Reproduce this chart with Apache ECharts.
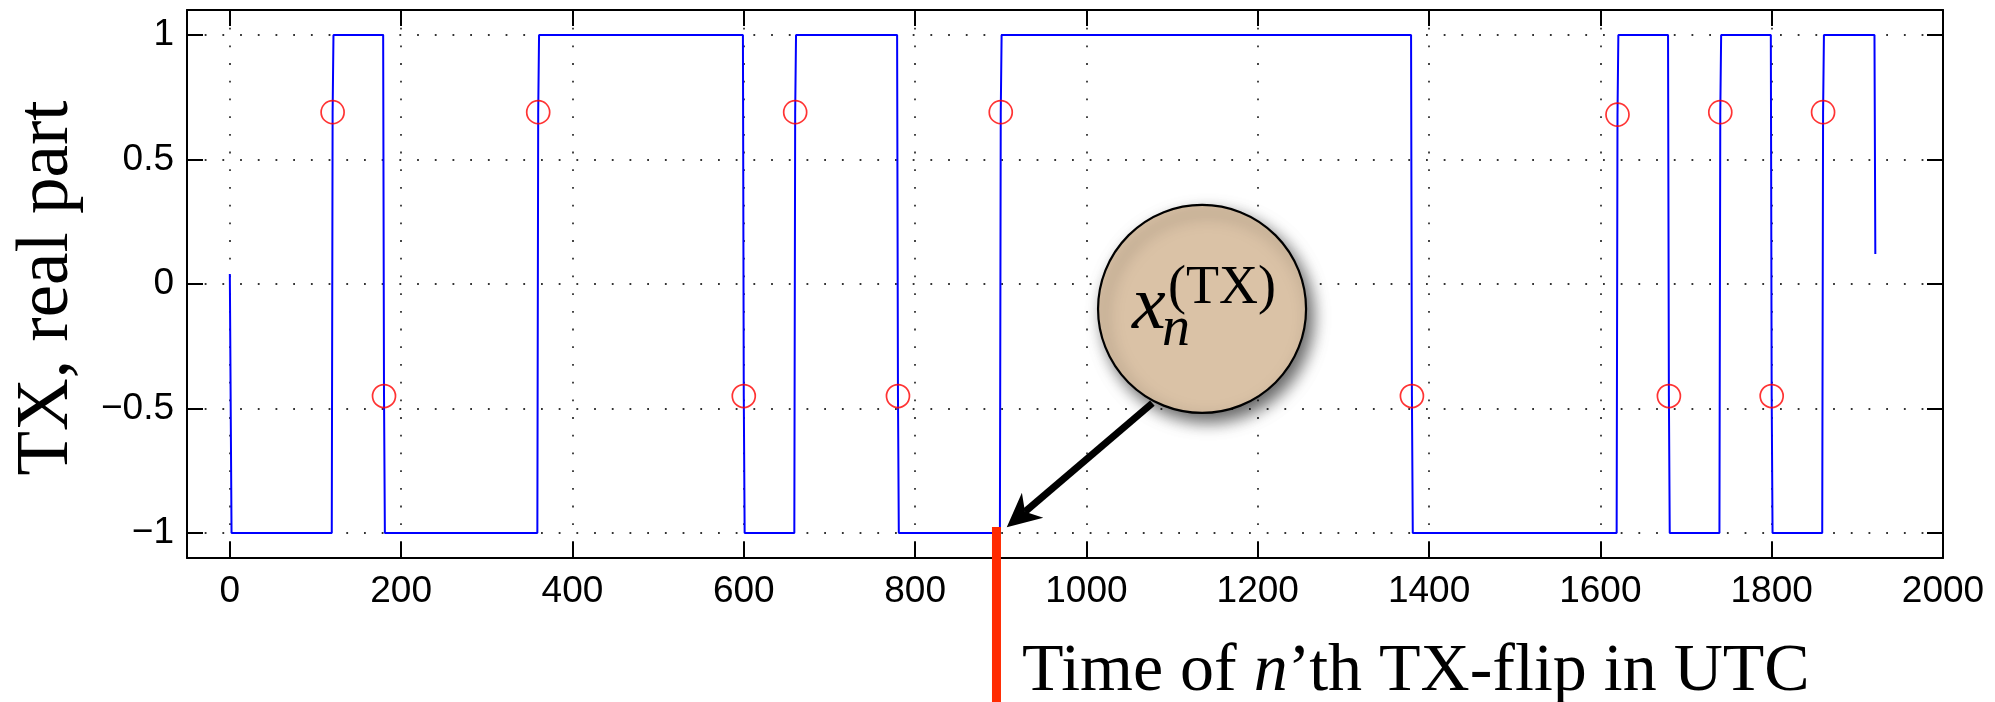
<!DOCTYPE html>
<html>
<head>
<meta charset="utf-8">
<script src="https://cdn.jsdelivr.net/npm/echarts@6/dist/echarts.min.js"></script>
<style>
  html, body { margin: 0; padding: 0; background: #fff; }
  #main { width: 1995px; height: 702px; }
</style>
</head>
<body>
<div id="main"></div>
<script>
// TX signal, real part: samples at the corners of each flip
const signalTime = [
  0, 2,
  119, 120, 121,
  179, 180, 181,
  359, 360, 361,
  599, 600, 601,
  659, 660, 661,
  779, 780, 781,
  899, 900, 901,
  1379, 1380, 1381,
  1619, 1620, 1621,
  1679, 1680, 1681,
  1739, 1740, 1741,
  1799, 1800, 1801,
  1859, 1860, 1861,
  1920, 1921
];
const signalValue = [
  0.04, -1,
  -1, 0.69, 1,
  1, -0.45, -1,
  -1, 0.69, 1,
  1, -0.45, -1,
  -1, 0.69, 1,
  1, -0.45, -1,
  -1, 0.69, 1,
  1, -0.45, -1,
  -1, 0.68, 1,
  1, -0.45, -1,
  -1, 0.69, 1,
  1, -0.45, -1,
  -1, 0.69, 1,
  1, 0.12
];

// Flip instants and the signal value sampled at each of them
const flipTime  = [120, 180, 360, 600, 660, 780, 900, 1380, 1620, 1680, 1740, 1800, 1860];
const flipValue = [0.69, -0.45, 0.69, -0.45, 0.69, -0.45, 0.69, -0.45, 0.68, -0.45, 0.69, -0.45, 0.69];

// Axis ticks
const xTicks = [0, 200, 400, 600, 800, 1000, 1200, 1400, 1600, 1800, 2000];
const yTicks = [-1, -0.5, 0, 0.5, 1];

// Text
const yAxisTitle = 'TX, real part';
const calloutVar = 'x';
const calloutSub = 'n';
const calloutSup = '(TX)';

// Callout anchors in data units: bubble centre, arrow tail, arrow tip, time marker
const bubbleCenter = [1135, -0.1];
const arrowTail = [1077, -0.478];
const arrowTip = [907, -0.977];
const markerTime = 895;

const serif = '"Liberation Serif", "DejaVu Serif", serif';
const sans = '"Liberation Sans", Arial, sans-serif';

const signalData = signalTime.map((t, i) => [t, signalValue[i]]);
const flipData = flipTime.map((t, i) => [t, flipValue[i]]);
const plainFmt = v => String(v).replace('-', '\u2212');

const boxLine = { show: true, onZero: false, lineStyle: { color: '#000', width: 2 } };
const gridDots = { show: true, lineStyle: { color: '#333', width: 1.8, type: [1.8, 15.9] } };

const chart = echarts.init(document.getElementById('main'), null, { renderer: 'canvas' });

chart.setOption({
  animation: false,
  backgroundColor: '#fff',
  grid: { left: 187, right: 52, top: 10, bottom: 144, containLabel: false },
  xAxis: [
    {
      type: 'value', min: -50, max: 2000, position: 'bottom',
      axisLine: boxLine,
      axisTick: { show: true, inside: true, length: 16, customValues: xTicks, lineStyle: { color: '#000', width: 2 } },
      axisLabel: { customValues: xTicks, margin: 15, fontSize: 37, fontFamily: sans, color: '#000', formatter: plainFmt },
      splitLine: gridDots
    },
    {
      type: 'value', min: -50, max: 2000, position: 'top',
      axisLine: boxLine,
      axisTick: { show: true, inside: true, length: 16, customValues: xTicks, lineStyle: { color: '#000', width: 2 } },
      axisLabel: { show: false },
      splitLine: { show: false }
    }
  ],
  yAxis: [
    {
      type: 'value', min: -1.1, max: 1.1, position: 'left',
      axisLine: boxLine,
      axisTick: { show: true, inside: true, length: 16, customValues: yTicks, lineStyle: { color: '#000', width: 2 } },
      axisLabel: { customValues: yTicks, margin: 13, fontSize: 37, fontFamily: sans, color: '#000', formatter: plainFmt },
      splitLine: gridDots
    },
    {
      type: 'value', min: -1.1, max: 1.1, position: 'right',
      axisLine: boxLine,
      axisTick: { show: true, inside: true, length: 16, customValues: yTicks, lineStyle: { color: '#000', width: 2 } },
      axisLabel: { show: false },
      splitLine: { show: false }
    }
  ],
  series: [
    {
      type: 'line', data: signalData, showSymbol: false,
      lineStyle: { color: '#0000ff', width: 2 },
      z: 3
    },
    {
      type: 'scatter', data: flipData, symbol: 'circle', symbolSize: 23,
      itemStyle: { color: 'rgba(0,0,0,0)', borderColor: '#ff0000', borderWidth: 1.7 },
      z: 4
    }
  ]
});

// Callout, time marker and titles, placed through the axes' pixel mapping
const px = p => chart.convertToPixel({ gridIndex: 0 }, p);
const c = px(bubbleCenter);
const tail = px(arrowTail);
const tip = px(arrowTip);
const markX = px([markerTime, -1]);
const H = chart.getHeight();

const dx = tip[0] - tail[0], dy = tip[1] - tail[1];
const len = Math.hypot(dx, dy);
const ux = dx / len, uy = dy / len;   // along the arrow, towards the tip
const nx = -uy, ny = ux;              // normal
const headLen = 34, headHalf = 16.5, notch = 24;
const b1 = [tip[0] - ux * headLen + nx * headHalf, tip[1] - uy * headLen + ny * headHalf];
const b2 = [tip[0] - ux * headLen - nx * headHalf, tip[1] - uy * headLen - ny * headHalf];
const nk = [tip[0] - ux * notch, tip[1] - uy * notch];

chart.setOption({
  graphic: [
    {
      type: 'rect', z: 100,
      shape: { x: markX[0] - 4.5, y: markX[1] - 6, width: 9, height: H - markX[1] + 6 },
      style: { fill: '#ff2a00' }
    },
    {
      type: 'line', z: 101,
      shape: { x1: tail[0], y1: tail[1], x2: nk[0], y2: nk[1] },
      style: { stroke: '#000', lineWidth: 7 }
    },
    {
      type: 'polygon', z: 101,
      shape: { points: [tip, b1, nk, b2] },
      style: { fill: '#000' }
    },
    {
      type: 'circle', z: 102,
      shape: { cx: c[0], cy: c[1], r: 104 },
      style: {
        fill: '#dac2a6', stroke: '#000', lineWidth: 2.2,
        shadowBlur: 16, shadowOffsetX: 6, shadowOffsetY: 8, shadowColor: 'rgba(0,0,0,0.6)'
      }
    },
    {
      type: 'text', z: 103, x: c[0] - 70, y: c[1] + 24 - 0.33 * 76,
      style: { text: calloutVar, font: 'italic 76px ' + serif, fill: '#000', textAlign: 'left', textVerticalAlign: 'middle' }
    },
    {
      type: 'text', z: 103, x: c[0] - 40, y: c[1] + 40 - 0.33 * 56,
      style: { text: calloutSub, font: 'italic 56px ' + serif, fill: '#000', textAlign: 'left', textVerticalAlign: 'middle' }
    },
    {
      type: 'text', z: 103, x: c[0] - 34, y: c[1] - 2 - 0.33 * 54,
      style: { text: calloutSup, font: '54px ' + serif, fill: '#000', textAlign: 'left', textVerticalAlign: 'middle' }
    },
    {
      type: 'text', z: 103, x: 48, y: 288, rotation: Math.PI / 2,
      style: { text: yAxisTitle, font: '73px ' + serif, fill: '#000', textAlign: 'center', textVerticalAlign: 'middle' }
    },
    {
      type: 'text', z: 103, x: 1022, y: 695 - 0.33 * 68,
      style: {
        text: '{r|Time of }{i|n}{r|\u2019th TX-flip in UTC}',
        textAlign: 'left', textVerticalAlign: 'middle', fill: '#000',
        rich: {
          r: { fontFamily: serif, fontSize: 68, fill: '#000' },
          i: { fontFamily: serif, fontSize: 68, fontStyle: 'italic', fill: '#000' }
        }
      }
    }
  ]
});
</script>
</body>
</html>
